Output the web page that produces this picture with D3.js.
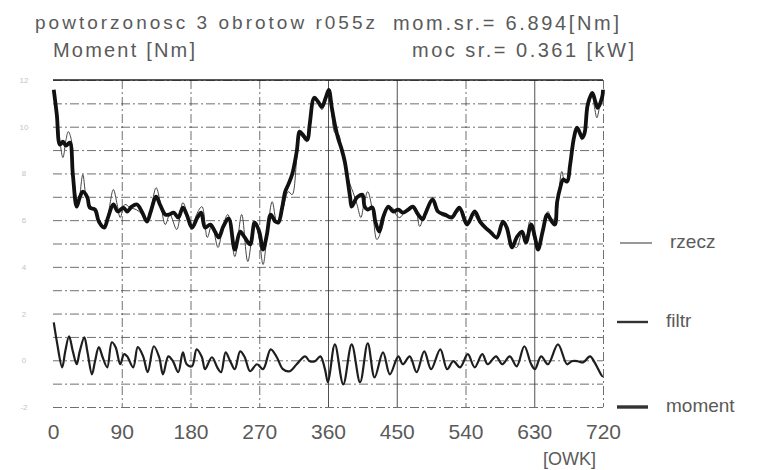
<html>
<head>
<meta charset="UTF-8">
<title>moment - powtorzonosc 3 obrotow</title>
<style>
  body { margin: 0; background: #fff; }
  text { font-family: "Liberation Sans", Arial, sans-serif; fill: #5a5a5a; }
  .grid line { stroke: #333; stroke-width: 1; stroke-dasharray: 9,3,2,3; opacity: 0.7; }
  .grid path { display: none; }
</style>
</head>
<body>
<script src="https://d3js.org/d3.v7.min.js"></script>
<div id="chart"></div>
<script>
// thick curve "moment" [deg, Nm]
var momentDeg = [1,5,9,13,17,22,26,31,35,39,45,48,55,60,67,72,79,85,92,97,103,110,117,123,128,135,140,147,152,158,164,170,175,182,189,194,199,206,212,217,223,230,238,245,251,258,264,270,275,280,285,291,295,300,304,308,313,319,323,327,333,336,342,347,352,357,361,365,369,373,378,382,386,389,391,398,405,408,412,418,422,427,432,439,445,452,458,465,471,478,484,487,497,504,513,522,532,542,552,559,566,572,581,589,594,601,607,614,619,626,631,635,641,647,653,657,660,664,668,673,677,682,686,693,696,700,706,710,713,719,720];
var momentVal = [11.58,10.51,9.23,9.36,9.19,9.32,7.95,6.58,6.97,7.22,6.97,6.54,6.45,5.94,5.68,6.11,6.67,6.37,6.54,6.37,6.58,6.67,6.32,5.94,6.37,7.01,6.67,6.24,6.24,6.32,6.11,6.54,6.24,5.68,6.11,6.32,5.68,5.81,5.51,5.26,5.73,6.07,4.74,5.51,5.26,4.96,5.90,5.51,4.74,5.38,6.24,5.94,5.90,6.54,7.22,7.52,7.95,8.93,9.79,9.66,9.44,10.09,11.24,11.07,10.85,11.24,11.58,10.81,10.09,9.53,9.02,8.50,7.65,6.97,6.58,6.97,7.09,6.58,6.45,6.54,5.94,5.51,6.11,6.58,6.37,6.45,6.32,6.45,6.58,6.24,6.03,6.24,6.88,6.37,6.24,6.11,6.54,5.81,6.37,5.94,5.68,5.51,5.26,5.94,5.68,4.83,5.26,5.51,5.04,5.81,5.26,4.74,5.51,6.24,5.94,5.81,6.79,7.39,7.74,7.65,8.38,9.53,9.96,9.53,9.74,10.94,11.45,11.07,10.81,11.28,11.58];

// thin curve "rzecz"
var rzeczDeg = [1,7,13,17,20,24,27,33,39,43,48,55,62,67,72,79,84,88,94,101,109,117,123,128,135,141,147,153,162,170,177,182,188,195,202,208,216,223,229,238,247,255,264,270,275,280,287,293,300,308,313,319,323,327,332,336,342,347,352,357,361,365,369,374,378,384,389,393,398,403,407,412,418,424,431,437,444,449,454,461,467,474,480,487,497,507,516,526,535,542,550,559,567,575,581,589,596,601,607,614,619,624,631,636,641,648,653,658,662,666,670,674,678,682,687,692,696,700,706,709,712,716,720];
var rzeczVal = [11.50,9.96,8.68,9.44,9.79,9.44,7.82,6.67,7.95,7.09,6.67,6.37,5.81,5.77,6.24,7.31,6.67,6.11,6.67,6.54,6.45,6.24,5.94,6.45,7.39,6.67,5.81,6.24,5.60,6.75,6.11,5.60,6.24,6.58,5.26,5.81,4.83,5.81,6.24,4.44,6.24,4.23,5.94,5.17,4.10,5.26,6.79,5.94,6.37,7.22,7.09,8.59,9.66,9.53,9.36,9.96,11.15,11.03,10.73,11.15,11.37,10.51,9.74,9.66,8.93,8.16,7.52,7.18,6.67,6.11,6.67,7.22,6.45,5.17,5.68,6.45,6.54,6.24,6.11,6.37,6.45,6.54,5.73,6.37,6.97,6.24,6.15,6.24,6.45,5.94,6.24,5.85,5.60,5.51,5.17,5.81,5.51,5.00,4.83,5.43,5.17,5.94,5.09,4.96,5.68,6.37,6.03,6.11,7.09,8.08,7.65,7.82,8.50,9.44,9.87,9.44,9.66,10.73,11.32,10.81,10.38,10.94,11.45];

// lower curve "filtr"
var filtrDeg = [1,5,12,16,21,26,31,35,41,45,51,55,60,65,71,77,82,88,93,97,105,111,118,124,132,139,144,151,157,164,170,175,182,188,195,199,208,215,220,226,232,238,245,251,258,267,275,285,293,301,310,319,330,336,343,350,356,360,369,380,391,402,412,421,432,441,452,458,467,476,486,495,507,516,524,533,543,552,562,569,580,588,598,607,617,626,631,639,648,661,673,679,687,694,703,709,719,720];
var filtrVal = [1.62,0.81,-0.30,0.38,1.03,0.38,-0.17,0.38,0.98,0.38,-0.60,-0.04,0.56,0.13,-0.30,0.77,0.56,-0.17,0.26,0.17,-0.30,0.56,0.17,-0.51,0.60,0.13,-0.60,0.17,-0.04,-0.51,0.34,-0.17,-0.26,0.47,0.13,-0.38,0.13,-0.30,-0.51,0.34,-0.04,-0.38,0.38,0.13,-0.47,-0.17,-0.38,0.47,0.13,-0.38,-0.47,-0.17,0.17,-0.04,-0.04,0.17,-0.38,-0.94,0.68,-1.03,0.68,-0.94,0.73,-0.73,0.34,-0.60,0.17,-0.17,0.17,-0.51,0.38,-0.38,0.47,-0.38,-0.04,-0.30,0.26,-0.30,0.26,-0.17,0.17,-0.17,0.17,-0.26,0.60,-0.17,-0.38,0.17,-0.17,0.68,-0.17,-0.04,-0.04,-0.09,0.17,-0.09,-0.68,-0.68];

var xTicks = [0, 90, 180, 270, 360, 450, 540, 630, 720];
var yGrid = d3.range(-2, 13, 1);
var yLabels = [12, 10, 8, 6, 4, 2, 0, -2];
var solidX = [360, 450, 630];
var legendNames = ["rzecz", "filtr", "moment"];

var W = 757, H = 470;
var svg = d3.select("#chart").append("svg")
    .attr("width", W).attr("height", H);

var x = d3.scaleLinear().domain([0, 720]).range([53, 603]);
var y = d3.scaleLinear().domain([-2, 12]).range([407, 80]);

// grid
svg.append("g").attr("class", "grid")
    .attr("transform", "translate(53,0)")
    .call(d3.axisLeft(y).tickValues(yGrid).tickSize(-550).tickFormat(""));
svg.append("g").attr("class", "grid")
    .attr("transform", "translate(0,80)")
    .call(d3.axisBottom(x).tickValues(xTicks.slice(1)).tickSize(327).tickFormat(""))
    .selectAll("line")
    .style("stroke-dasharray", d => solidX.includes(d) ? "none" : null)
    .style("opacity", d => solidX.includes(d) ? 0.85 : null);

// top border
svg.append("line")
    .attr("x1", x(0)).attr("x2", x(720))
    .attr("y1", y(12)).attr("y2", y(12))
    .attr("stroke", "#222").attr("stroke-width", 1.5);

// x axis labels
var xAxis = svg.append("g")
    .attr("transform", "translate(0,421)")
    .call(d3.axisBottom(x).tickValues(xTicks).tickSize(0).tickPadding(3));
xAxis.select(".domain").remove();
xAxis.selectAll("text")
    .style("font-size", "21px")
    .style("font-family", "Liberation Sans Narrow, Liberation Sans, Arial, sans-serif")
    .attr("fill", "#5a5a5a");

// faint y labels (scan is barely readable)
svg.append("g").selectAll("text")
    .data(yLabels).join("text")
    .attr("x", 24).attr("y", d => y(d) + 3)
    .attr("text-anchor", "middle")
    .style("font-size", "8px")
    .style("fill", "#c4c4c4")
    .text(d => d);

var line = d3.line()
    .x(d => x(d[0])).y(d => y(d[1]))
    .curve(d3.curveCatmullRom.alpha(0.5));

var rzecz = d3.zip(rzeczDeg, rzeczVal);
var moment = d3.zip(momentDeg, momentVal);
var filtr = d3.zip(filtrDeg, filtrVal);

svg.append("path").datum(filtr)
    .attr("d", line).attr("fill", "none")
    .attr("stroke", "#1e1e1e").attr("stroke-width", 2.2);
svg.append("path").datum(rzecz)
    .attr("d", line).attr("fill", "none")
    .attr("stroke", "#444").attr("stroke-width", 1);
svg.append("path").datum(moment)
    .attr("d", line).attr("fill", "none")
    .attr("stroke", "#111").attr("stroke-width", 3.8)
    .attr("stroke-linejoin", "round");

// titles
function label(tx, ty, size, len, s) {
    var t = svg.append("text").attr("x", tx).attr("y", ty).style("font-size", size + "px").text(s);
    if (len) t.attr("textLength", len).attr("lengthAdjust", "spacing");
}
label(35, 29, 19, 340, "powtorzonosc  3  obrotow  r055z");
label(393, 30, 20, 226, "mom.sr.=  6.894[Nm]");
label(53, 57, 20, 142, "Moment  [Nm]");
label(412, 57, 20, 222, "moc  sr.=  0.361  [kW]");
label(543, 465, 18, 0, "[OWK]");

// legend
var legendY = [243, 322, 407];
var legendW = [1, 2.4, 3.4];
var lg = svg.append("g").selectAll("g").data(legendNames).join("g")
    .attr("transform", (d, i) => "translate(0," + legendY[i] + ")");
lg.append("line").attr("x1", (d, i) => i == 0 ? 620 : 617).attr("x2", (d, i) => i == 0 ? 652 : 648)
    .attr("stroke", "#333").attr("stroke-width", (d, i) => legendW[i]);
lg.append("text").attr("x", (d, i) => i == 0 ? 670 : 666).attr("y", 5).style("font-size", "19px").text(d => d);
</script>
</body>
</html>
